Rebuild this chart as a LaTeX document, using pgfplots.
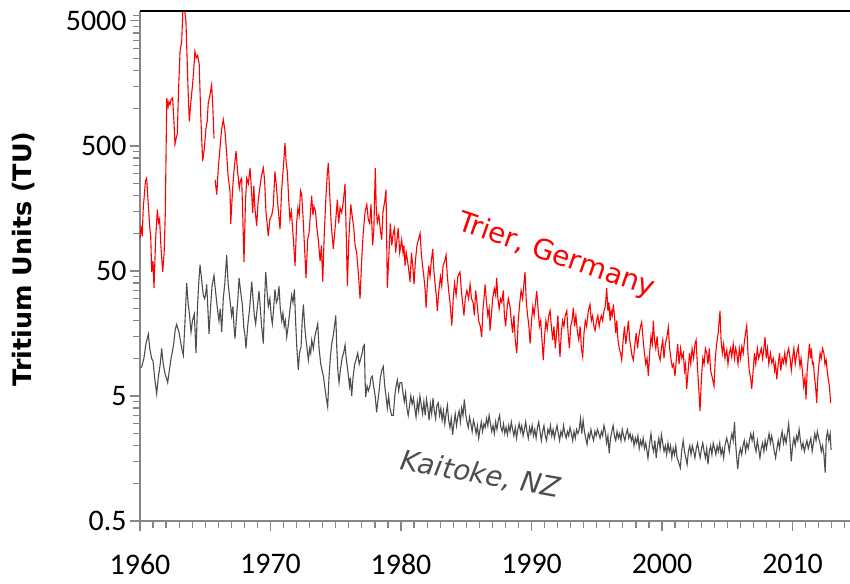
\documentclass[border=0pt]{standalone}
\usepackage{pgfplots}
\pgfplotsset{compat=1.18}
\usepackage{fontspec}
\setmainfont{Carlito}
\newfontfamily\dejavu{DejaVu Sans}
\definecolor{axgray}{HTML}{868686}
\definecolor{kgray}{HTML}{4D4D4D}
\definecolor{tred}{HTML}{FF0000}
\begin{document}
\begin{tikzpicture}
\begin{axis}[
 name=ax,
 scale only axis, width=710bp, height=510bp,
 ymode=log, xmin=1960, xmax=2014.4, ymin=0.5, ymax=6000,
 axis x line*=bottom, axis y line*=left,
 axis line style={-, axgray, line width=1.4bp},
 every tick/.style={axgray, line width=1.2bp},
 tick align=outside,
 major tick length=10bp, minor tick length=7bp,
 xtick={1960,1970,1980,1990,2000,2010},
 xticklabels={1960,1970,1980,1990,2000,2010},
 minor xtick={1961,1962,...,2014},
 ytick={0.5,5,50,500,5000}, yticklabels={0.5,5,50,500,5000},
 minor ytick={1,1.5,2,2.5,3,3.5,4,4.5,10,15,20,25,30,35,40,45,100,150,200,250,300,350,400,450,1000,1500,2000,2500,3000,3500,4000,4500,5500},
 tick label style={font=\fontsize{30}{34}\selectfont, black},
 xticklabel style={yshift=-20bp},
 unbounded coords=jump,
]
\addplot[tred, line width=1.1bp] coordinates {
(1960.00,91) (1960.08,115) (1960.17,95) (1960.25,160) (1960.42,262) (1960.51,276) (1960.62,180) (1960.75,110) (1960.82,95) (1960.90,49)
(1961.00,60) (1961.07,36.5) (1961.20,90) (1961.33,155) (1961.42,122) (1961.50,130) (1961.60,80) (1961.74,49) (1961.85,70) (1961.94,146)
(1962.05,1208) (1962.15,1019) (1962.22,1133) (1962.30,1074) (1962.40,1190) (1962.50,1208) (1962.60,789) (1962.68,515) (1962.78,583) (1962.86,628) (1962.95,1365)
(1963.07,2851) (1963.20,3475) (1963.32,8000) (1963.42,6080) (1963.52,4951) (1963.62,2297) (1963.70,1250) (1963.78,786) (1963.90,1133)
(1964.03,1553) (1964.12,2064) (1964.21,2851) (1964.32,2535) (1964.42,2649) (1964.54,2234) (1964.65,903) (1964.80,377) (1964.92,468)
(1965.06,694) (1965.15,789) (1965.23,1102) (1965.35,1250) (1965.49,1540) (1965.58,1019) (1965.67,574) (1965.72,nan) (1965.75,269) (1965.88,204)
(1966.00,333) (1966.12,468) (1966.25,673) (1966.38,812) (1966.50,673) (1966.62,468) (1966.75,287) (1966.90,216) (1966.95,119)
(1967.02,160) (1967.10,230) (1967.22,333) (1967.36,454) (1967.48,310) (1967.61,230) (1967.70,265) (1967.79,276) (1967.88,130) (1967.97,59)
(1968.08,180) (1968.18,276) (1968.30,250) (1968.43,333) (1968.54,220) (1968.64,146) (1968.72,240) (1968.80,160) (1968.94,115)
(1969.05,180) (1969.18,230) (1969.30,287) (1969.45,333) (1969.55,265) (1969.65,150) (1969.83,95) (1969.95,130)
(1970.10,140) (1970.21,164) (1970.34,312) (1970.45,240) (1970.58,160) (1970.73,108) (1970.85,220) (1970.98,333)
(1971.11,527) (1971.20,366) (1971.29,312) (1971.40,180) (1971.49,129) (1971.60,150) (1971.75,90) (1971.88,55)
(1972.00,120) (1972.10,160) (1972.20,140) (1972.30,220) (1972.39,204) (1972.50,130) (1972.60,80) (1972.72,44) (1972.85,90) (1972.95,100)
(1973.03,129) (1973.15,200) (1973.25,140) (1973.33,164) (1973.45,150) (1973.55,110) (1973.66,89) (1973.80,60) (1973.90,80)
(1974.00,41) (1974.12,100) (1974.25,200) (1974.35,298) (1974.43,366) (1974.55,190) (1974.65,120) (1974.81,75) (1974.95,110)
(1975.12,186) (1975.22,120) (1975.33,160) (1975.45,146) (1975.58,180) (1975.71,248) (1975.80,100) (1975.89,38)
(1976.00,90) (1976.15,170) (1976.25,140) (1976.38,110) (1976.48,80) (1976.60,70) (1976.75,45) (1976.86,30) (1976.98,60)
(1977.10,100) (1977.25,150) (1977.38,170) (1977.49,129) (1977.60,120) (1977.70,170) (1977.83,80) (1977.92,110)
(1978.03,333) (1978.10,160) (1978.18,122) (1978.30,140) (1978.40,110) (1978.52,89) (1978.62,150) (1978.75,180) (1978.85,223) (1978.95,36.6)
(1979.05,60) (1979.18,120) (1979.29,80) (1979.40,100) (1979.50,110) (1979.58,70) (1979.67,85) (1979.78,110) (1979.90,70)
(1980.05,89) (1980.15,70) (1980.22,80) (1980.31,55) (1980.40,70) (1980.50,60) (1980.60,50) (1980.69,41) (1980.80,70) (1980.90,55)
(1981.00,39) (1981.10,60) (1981.22,80) (1981.35,90) (1981.46,100) (1981.55,70) (1981.65,55) (1981.75,45) (1981.85,35) (1981.92,25.4)
(1982.02,40) (1982.12,55) (1982.22,45) (1982.32,60) (1982.43,75) (1982.52,50) (1982.60,40) (1982.70,32) (1982.78,24) (1982.90,35)
(1983.02,45) (1983.12,38) (1983.22,55) (1983.35,60) (1983.45,67) (1983.55,45) (1983.65,35) (1983.75,28) (1983.89,18.3)
(1984.00,30) (1984.10,40) (1984.22,32) (1984.35,45) (1984.52,49) (1984.62,35) (1984.72,28) (1984.82,22) (1984.92,30)
(1985.05,35) (1985.18,30) (1985.29,39) (1985.40,30) (1985.52,28) (1985.62,22) (1985.72,35) (1985.82,28) (1985.95,20)
(1986.08,18) (1986.18,14.8) (1986.28,25) (1986.36,30) (1986.44,39) (1986.55,28) (1986.65,22) (1986.75,25) (1986.82,16.7) (1986.92,22)
(1987.02,30) (1987.15,36) (1987.25,32) (1987.33,44) (1987.42,30) (1987.52,25) (1987.62,30) (1987.72,28) (1987.84,35) (1987.92,22)
(1988.02,18) (1988.12,25) (1988.22,30) (1988.35,26) (1988.45,20) (1988.55,16) (1988.65,22) (1988.75,14) (1988.87,11) (1988.98,20)
(1989.10,28) (1989.20,35) (1989.32,30) (1989.42,40) (1989.50,49) (1989.60,28) (1989.70,22) (1989.80,18) (1989.89,13.1)
(1990.00,20) (1990.10,26) (1990.20,22) (1990.30,28) (1990.40,34.4) (1990.50,25) (1990.60,18) (1990.70,20) (1990.80,14) (1990.90,9.7)
(1991.00,15) (1991.10,20) (1991.20,17) (1991.32,22) (1991.42,24) (1991.52,18) (1991.62,14) (1991.72,18) (1991.82,12) (1991.92,16)
(1992.02,22) (1992.10,14) (1992.18,10.3) (1992.28,16) (1992.38,20) (1992.48,18) (1992.58,22) (1992.70,24) (1992.80,16) (1992.90,12)
(1993.00,18) (1993.10,20) (1993.20,25.4) (1993.30,18) (1993.40,22) (1993.52,16) (1993.62,14) (1993.72,18) (1993.82,12) (1993.92,10.3)
(1994.02,16) (1994.12,20) (1994.22,18) (1994.35,24) (1994.48,27) (1994.58,20) (1994.68,22) (1994.78,18) (1994.87,16.7) (1994.98,20)
(1995.08,22) (1995.18,18) (1995.25,20) (1995.35,22) (1995.45,20) (1995.55,24) (1995.63,25.4) (1995.70,30) (1995.76,36.6) (1995.85,24) (1995.93,28)
(1996.02,20) (1996.10,24) (1996.18,22) (1996.27,27) (1996.35,22) (1996.45,16) (1996.53,20) (1996.62,14) (1996.72,12) (1996.82,11) (1996.91,9.7)
(1997.02,14) (1997.12,18) (1997.22,13) (1997.32,16) (1997.42,20) (1997.52,14) (1997.62,12) (1997.70,10.5) (1997.80,9.7) (1997.92,13)
(1998.02,16) (1998.12,12) (1998.22,15) (1998.35,18) (1998.44,19.5) (1998.55,14) (1998.65,11) (1998.75,9) (1998.85,10) (1998.95,7.2)
(1999.05,11) (1999.15,15) (1999.25,13) (1999.33,20) (1999.42,14) (1999.52,12) (1999.62,15) (1999.72,11) (1999.85,9.7) (1999.95,12)
(2000.05,14) (2000.15,10) (2000.25,13) (2000.38,15) (2000.48,17.8) (2000.58,12) (2000.68,10) (2000.78,8.5) (2000.88,9) (2000.99,7.2)
(2001.10,10) (2001.20,13) (2001.30,9) (2001.42,12) (2001.52,10) (2001.63,11) (2001.72,8) (2001.80,9) (2001.89,5.7)
(2002.00,8) (2002.10,11) (2002.20,9) (2002.30,12) (2002.42,10) (2002.52,13) (2002.61,14) (2002.70,9) (2002.80,6) (2002.91,3.8)
(2003.02,7) (2003.12,10) (2003.22,9) (2003.32,12) (2003.43,11) (2003.52,9) (2003.62,12) (2003.72,8) (2003.85,7) (2003.98,6)
(2004.08,10) (2004.18,13) (2004.30,16) (2004.44,24) (2004.52,14) (2004.62,11) (2004.72,13) (2004.82,10) (2004.96,11.7)
(2005.05,9) (2005.15,11) (2005.25,12) (2005.34,10.3) (2005.45,13) (2005.55,10) (2005.64,12) (2005.72,11) (2005.82,9) (2005.92,12)
(2006.02,10) (2006.11,12.4) (2006.22,11) (2006.32,14) (2006.40,16) (2006.49,18.3) (2006.58,11) (2006.68,8) (2006.78,7) (2006.87,5.7) (2006.98,8)
(2007.08,11) (2007.18,9) (2007.30,12) (2007.40,10) (2007.51,11) (2007.60,12) (2007.70,10) (2007.80,12) (2007.89,14.8) (2007.98,10)
(2008.08,12) (2008.18,9) (2008.30,11) (2008.41,9.2) (2008.52,10) (2008.62,8) (2008.70,9) (2008.79,6.8) (2008.90,9)
(2009.00,11) (2009.10,8) (2009.20,10) (2009.30,9.2) (2009.40,11) (2009.50,9) (2009.60,11) (2009.70,12) (2009.81,10) (2009.90,8)
(2010.00,10) (2010.10,12) (2010.20,9) (2010.32,11) (2010.44,12.4) (2010.50,10) (2010.57,8.6) (2010.65,10) (2010.75,8) (2010.85,6) (2010.95,7)
(2011.03,4.7) (2011.12,8) (2011.20,10) (2011.29,13.1) (2011.38,10) (2011.45,12) (2011.52,9) (2011.60,9.2) (2011.68,7) (2011.76,6) (2011.85,4.4) (2011.93,7)
(2012.02,9) (2012.11,11) (2012.20,10) (2012.30,12) (2012.40,11) (2012.48,9) (2012.57,9.7) (2012.65,8) (2012.72,7) (2012.82,6) (2012.92,4.4)
};
\addplot[kgray, line width=1.1bp] coordinates {
(1960.00,8.5) (1960.13,8.5) (1960.30,10) (1960.45,13) (1960.64,15.6) (1960.75,12) (1960.89,10)
(1961.00,9.5) (1961.12,7) (1961.28,5.2) (1961.40,7) (1961.55,9) (1961.66,12) (1961.78,9) (1961.92,7.5)
(1962.02,7) (1962.12,6.4) (1962.25,8) (1962.38,10) (1962.48,11.3) (1962.58,13) (1962.70,17) (1962.81,18.7) (1962.92,17)
(1963.00,16) (1963.07,14.4) (1963.20,12) (1963.32,10.6) (1963.45,20) (1963.58,40) (1963.68,28) (1963.80,22) (1963.91,16.2)
(1964.02,20) (1964.16,22.6) (1964.29,11) (1964.40,25) (1964.50,40) (1964.60,56) (1964.70,45) (1964.85,32) (1964.95,30)
(1965.02,32) (1965.11,39) (1965.20,25) (1965.29,15.7) (1965.40,25) (1965.52,38) (1965.67,46) (1965.78,35) (1965.88,28) (1965.95,24)
(1966.05,20) (1966.15,25) (1966.26,16.3) (1966.38,30) (1966.50,40) (1966.64,67) (1966.75,40) (1966.88,30)
(1967.02,22) (1967.12,26) (1967.20,18) (1967.28,14.4) (1967.40,22) (1967.50,30) (1967.59,44) (1967.70,35) (1967.84,27) (1967.95,18)
(1968.05,15) (1968.12,12) (1968.25,18) (1968.40,25) (1968.56,41) (1968.66,30) (1968.76,22) (1968.86,18.9) (1968.98,25)
(1969.12,34.5) (1969.22,25) (1969.32,18) (1969.45,13.1) (1969.55,30) (1969.63,49) (1969.73,35) (1969.83,26) (1969.95,30)
(1970.05,22) (1970.14,18.9) (1970.24,25) (1970.34,35.6) (1970.45,28) (1970.55,30) (1970.65,37.7) (1970.75,25) (1970.86,20) (1970.95,23)
(1971.05,18) (1971.14,20) (1971.24,14.8) (1971.35,18) (1971.50,25) (1971.62,32) (1971.72,28) (1971.83,35.6) (1971.92,20)
(1972.02,12) (1972.13,8.1) (1972.22,11) (1972.34,12.4) (1972.43,20) (1972.52,27) (1972.62,18) (1972.72,14) (1972.80,12) (1972.90,9.7)
(1973.00,12) (1973.08,11) (1973.16,14) (1973.28,12) (1973.40,15) (1973.52,17) (1973.62,18.9) (1973.72,12) (1973.85,9) (1973.95,8)
(1974.05,7.2) (1974.15,6) (1974.25,5) (1974.38,4.1) (1974.48,7) (1974.58,10) (1974.69,13.1) (1974.80,15) (1974.90,18)
(1975.00,22) (1975.08,12) (1975.16,8) (1975.25,6.4) (1975.35,8) (1975.48,10) (1975.60,11) (1975.71,12.8) (1975.80,10) (1975.92,8)
(1976.05,6) (1976.12,7) (1976.22,5) (1976.32,7) (1976.45,9) (1976.58,10) (1976.68,11) (1976.80,9) (1976.92,10)
(1977.02,11) (1977.10,12.4) (1977.19,12.8) (1977.24,7) (1977.29,4.9) (1977.40,6) (1977.50,5.5) (1977.62,6) (1977.70,7) (1977.80,7.2) (1977.90,6)
(1978.02,5) (1978.13,3.7) (1978.22,4.5) (1978.32,5.5) (1978.42,7) (1978.52,8) (1978.64,8.6) (1978.75,6) (1978.85,5) (1978.95,4)
(1979.05,5) (1979.15,4) (1979.28,3.5) (1979.41,3.5) (1979.52,5) (1979.62,6) (1979.72,6.7) (1979.82,5.5) (1979.92,6.4)
(1980.05,6.4) (1980.15,5.3) (1980.25,4.5) (1980.35,5.3) (1980.45,4) (1980.55,3.5) (1980.65,4.2) (1980.75,5) (1980.85,4.3) (1980.95,4.8)
(1981.05,4) (1981.15,3.4) (1981.25,4.5) (1981.35,3.8) (1981.45,5) (1981.55,4.2) (1981.65,3.6) (1981.75,4.5) (1981.85,3.5) (1981.95,4.7)
(1982.05,4) (1982.15,3.2) (1982.25,4.3) (1982.35,3.6) (1982.45,4.8) (1982.55,3.8) (1982.65,3.3) (1982.75,4.2) (1982.85,4.4) (1982.95,3.5)
(1983.05,4) (1983.15,3.2) (1983.25,3.8) (1983.35,3) (1983.45,3.6) (1983.55,4.2) (1983.65,3.2) (1983.75,2.8) (1983.85,3.3) (1983.95,2.45)
(1984.05,3) (1984.15,3.6) (1984.25,2.9) (1984.35,3.4) (1984.45,3.8) (1984.55,3.1) (1984.65,4) (1984.75,3.5) (1984.85,4.7) (1984.95,3.6)
(1985.05,3.1) (1985.15,2.8) (1985.25,3.4) (1985.35,3) (1985.45,2.6) (1985.55,3.2) (1985.65,2.9) (1985.75,2.5) (1985.85,2.9) (1985.95,2.3)
(1986.05,2.7) (1986.15,3.1) (1986.25,2.6) (1986.35,3) (1986.45,2.8) (1986.55,3.3) (1986.65,2.9) (1986.75,3.5) (1986.85,3) (1986.95,2.6)
(1987.05,2.9) (1987.15,2.5) (1987.25,3.1) (1987.35,2.7) (1987.45,3.2) (1987.55,3.5) (1987.65,2.8) (1987.75,2.6) (1987.85,3) (1987.95,2.5)
(1988.05,2.8) (1988.15,2.45) (1988.25,2.9) (1988.35,2.6) (1988.45,3.1) (1988.55,2.7) (1988.65,2.4) (1988.75,2.8) (1988.85,2.3) (1988.95,2.7)
(1989.05,3) (1989.15,2.6) (1989.25,2.9) (1989.35,2.4) (1989.45,2.7) (1989.55,3.1) (1989.65,2.6) (1989.75,2.3) (1989.85,2.8) (1989.95,2.5)
(1990.05,2.9) (1990.15,2.4) (1990.25,2.7) (1990.35,2.3) (1990.45,2.8) (1990.55,3.1) (1990.65,2.6) (1990.75,2.2) (1990.85,2.6) (1990.95,2.9)
(1991.05,2.4) (1991.15,2.2) (1991.25,2.7) (1991.35,2.5) (1991.45,2.9) (1991.55,2.4) (1991.65,2.7) (1991.75,2.3) (1991.85,2.6) (1991.95,2.9)
(1992.05,2.5) (1992.15,2.2) (1992.25,2.6) (1992.35,2.4) (1992.45,2.9) (1992.55,2.5) (1992.65,2.3) (1992.75,2.6) (1992.85,2.4) (1992.95,2.8)
(1993.05,2.5) (1993.15,2.2) (1993.25,2.6) (1993.35,2.3) (1993.45,2.7) (1993.55,2.5) (1993.65,2.7) (1993.75,3.3) (1993.85,2.5) (1993.95,3.2)
(1994.05,2.6) (1994.15,2.3) (1994.25,2.05) (1994.35,2.5) (1994.45,2.3) (1994.55,2.7) (1994.65,2.4) (1994.75,2.2) (1994.85,2.6) (1994.95,2.4)
(1995.05,2.7) (1995.15,2.5) (1995.25,2.3) (1995.35,2.6) (1995.45,2.4) (1995.55,2.9) (1995.65,2.6) (1995.75,2.1) (1995.85,2.4) (1995.95,1.74)
(1996.05,2.3) (1996.15,2.6) (1996.25,2.9) (1996.35,2.4) (1996.45,2.2) (1996.55,2.6) (1996.65,2.3) (1996.75,2.5) (1996.85,2.2) (1996.95,2.7)
(1997.05,2.4) (1997.15,2.2) (1997.25,2.5) (1997.35,2.7) (1997.45,2.3) (1997.55,2.5) (1997.65,2.2) (1997.75,2.4) (1997.85,2) (1997.95,2.3)
(1998.05,2.1) (1998.15,2.4) (1998.25,1.9) (1998.35,2.2) (1998.45,2) (1998.55,2.3) (1998.65,1.9) (1998.75,2.1) (1998.85,1.8) (1998.92,1.59)
(1999.05,2.1) (1999.15,2.5) (1999.25,2) (1999.35,1.8) (1999.45,2.2) (1999.55,1.6) (1999.65,2) (1999.75,2.3) (1999.85,1.9) (1999.95,2.45)
(2000.05,2.1) (2000.15,1.8) (2000.25,2) (2000.35,1.7) (2000.45,2.1) (2000.55,1.8) (2000.65,2) (2000.75,1.6) (2000.85,1.9) (2000.95,1.7)
(2001.05,2) (2001.15,1.6) (2001.25,1.5) (2001.40,1.33) (2001.50,1.8) (2001.62,2.2) (2001.72,1.8) (2001.82,1.6) (2001.92,1.42)
(2002.02,1.8) (2002.12,2) (2002.22,1.7) (2002.32,2) (2002.42,1.8) (2002.52,1.6) (2002.62,1.9) (2002.72,2.1) (2002.82,1.8) (2002.92,1.6)
(2003.02,1.9) (2003.12,2.1) (2003.22,1.8) (2003.32,1.6) (2003.42,1.9) (2003.52,1.42) (2003.62,1.8) (2003.72,2) (2003.82,1.7) (2003.92,2.1)
(2004.02,1.9) (2004.12,1.7) (2004.22,2) (2004.32,1.8) (2004.42,2.1) (2004.52,1.7) (2004.62,1.9) (2004.72,1.6) (2004.82,2) (2004.95,2.3)
(2005.05,2.1) (2005.15,1.8) (2005.25,2.2) (2005.35,2.5) (2005.45,2.2) (2005.55,3.1) (2005.62,2.2) (2005.72,1.6) (2005.80,1.3) (2005.90,1.7)
(2006.00,1.9) (2006.10,1.7) (2006.20,2) (2006.30,2.2) (2006.40,1.8) (2006.50,2.1) (2006.60,1.9) (2006.70,2.2) (2006.80,2.5) (2006.90,2.2)
(2007.00,2.5) (2007.10,2) (2007.20,1.8) (2007.30,2.2) (2007.40,1.9) (2007.50,1.6) (2007.60,1.9) (2007.70,2.1) (2007.80,1.8) (2007.90,2.2)
(2008.00,1.9) (2008.10,2.2) (2008.20,2.5) (2008.30,2.1) (2008.40,2.4) (2008.50,2.1) (2008.60,1.8) (2008.70,1.6) (2008.80,1.9) (2008.90,2.2)
(2009.00,1.9) (2009.10,2.3) (2009.20,2.6) (2009.30,2.1) (2009.40,2.4) (2009.50,2.1) (2009.60,2.5) (2009.70,3) (2009.80,2.2) (2009.90,1.5)
(2010.00,2) (2010.10,2.3) (2010.20,2) (2010.30,2.4) (2010.40,2.2) (2010.50,2.7) (2010.60,2.2) (2010.70,1.9) (2010.80,2.1) (2010.90,1.8)
(2011.00,2) (2011.10,2.2) (2011.20,1.9) (2011.30,2.1) (2011.40,2.3) (2011.50,1.8) (2011.60,2.1) (2011.70,2.5) (2011.80,2.2) (2011.90,2.6)
(2012.00,2.3) (2012.10,2.1) (2012.20,1.8) (2012.30,2) (2012.40,1.7) (2012.50,1.22) (2012.58,2.3) (2012.68,2.6) (2012.78,2.2) (2012.88,2.5) (2012.95,1.85)
};
\node[rotate=-19, text=tred, font=\dejavu\fontsize{28}{32}\selectfont] at (axis cs:1991.9,66) {Trier, Germany};
\node[rotate=-10, text=kgray, font=\dejavu\itshape\fontsize{28}{32}\selectfont] at (axis cs:1986.1,1.17) {Kaitoke, NZ};
\end{axis}
\draw[black, line width=1.6bp] (ax.north west) -- (ax.north east);
\node[rotate=90, font=\dejavu\bfseries\fontsize{25.5}{30}\selectfont] at ([xshift=-116bp,yshift=7bp]ax.west) {Tritium Units (TU)};
\pgfresetboundingbox
\path[use as bounding box] ([xshift=-140bp,yshift=-63bp]ax.south west) rectangle ([yshift=11bp]ax.north east);
\end{tikzpicture}
\end{document}
